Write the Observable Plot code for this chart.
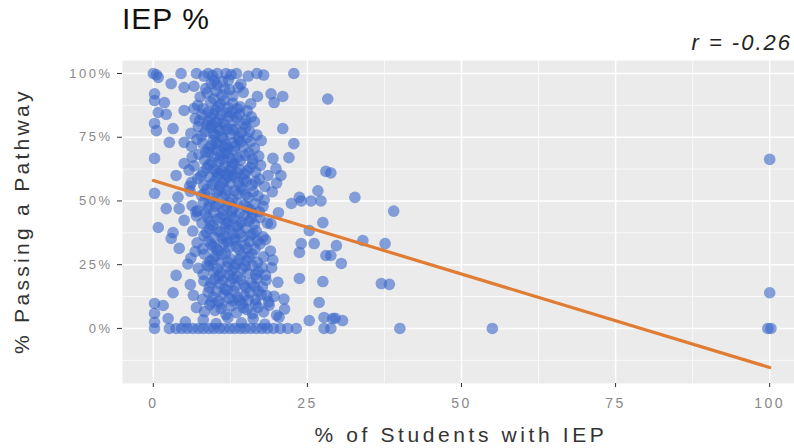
<!DOCTYPE html>
<html>
<head>
<meta charset="utf-8">
<script src="https://cdn.jsdelivr.net/npm/d3@7"></script>
<script src="https://cdn.jsdelivr.net/npm/@observablehq/plot@0.6"></script>
<style>
  html, body { margin: 0; padding: 0; background: #fff; overflow: hidden; }
  #wrap { position: relative; width: 800px; height: 448px; font-family: "Liberation Sans", Arial, sans-serif; }
  #chart { position: absolute; left: 0; top: 0; }
  .title { position: absolute; left: 122px; top: 4px; font-size: 30px; letter-spacing: 1px; color: #111; line-height: 1; }
  .rlab { position: absolute; right: 8px; top: 32px; font-size: 22px; font-style: italic; letter-spacing: 2px; color: #222; line-height: 1; }
  .xlab { position: absolute; left: 122px; width: 678px; top: 424px; text-align: center; font-size: 21px; letter-spacing: 3.6px; color: #333; line-height: 1; }
  .ylab { position: absolute; left: 11px; top: 221px; font-size: 21px; letter-spacing: 3.3px; color: #333; line-height: 1; white-space: nowrap;
          transform: rotate(-90deg); transform-origin: 0 0; }
  svg text { font-family: "Liberation Sans", Arial, sans-serif; }
  svg [aria-label$="tick label"] text { letter-spacing: 2.5px; }
</style>
</head>
<body>
<div id="wrap">
  <div id="chart"></div>
  <div class="title">IEP %</div>
  <div class="rlab">r = -0.26</div>
  <div class="xlab">% of Students with IEP</div>
  <div class="ylab" id="ylab">% Passing a Pathway</div>
</div>
<script>
// Axis ticks
const xTicks = [0, 25, 50, 75, 100];
const xMinor = [12.5, 37.5, 62.5, 87.5];
const yTicks = [0, 25, 50, 75, 100];
const yMinor = [-12.5, 12.5, 37.5, 62.5, 87.5];

// Fitted line
const fitIep = [0, 100];
const fitPass = [58, -15.3];

// Points: [% of students with IEP, % passing a pathway]
const topBand = [
  [0,100],[0.5,99.5],[0.8,98.5],[2.9,96],[4.5,100],[7,100],[8.2,99],[8.9,100],[9.6,99.2],[10.4,100],[11.8,100],[12.6,99.5],[13.5,100],[15.4,99],[16.8,100],[17.9,99.4],[22.8,100],[9.4,96],[10.3,95.5],[11.2,96.8],[12.2,97.5],[14.2,95.8],
  [0.2,92],[5,94.5],[6.6,95],[8.7,92.4],[10.2,93.1],[11.1,91.5],[12.4,93.6],[13.8,94.5],[16.9,91],[19.1,92],[21,91],[19.6,88.6],[28.3,90],
  [0.2,89.4],[1.8,88.6],[7.2,87.5],[8.1,86.2],[9.3,88.9],[10.1,85.8],[10.9,87.9],[12.1,86.6],[12.9,88.3],[14.1,86.9],[15.2,85.4],[11.5,89.5],[9.8,90.1],
  [0.8,84.7],[2.1,84],[5,85.5],[6.8,82.3],[7.9,83.8],[8.8,81.2],[9.7,84.3],[10.6,82.1],[11.4,80.6],[12.3,83.2],[13.1,81.5],[14,84.1],[15,81.6],[15.9,83],[0.2,80.4],[10.2,80.9],[12.7,84.8]
];
const upperBand = [
  [0.5,77.6],[3.2,78.4],[6.1,76.5],[7.3,79.2],[8.4,77.1],[9.2,78.8],[10,75.9],[10.8,77.7],[11.7,79.6],[12.5,76.2],[13.4,78.3],[14.3,76.8],[15,79],[15.6,77.3],[21,78.4],[9.5,79.9],[11.2,75.3],
  [2.6,73],[5,73],[6.2,71.4],[7.1,74.2],[8,72.6],[8.9,70.5],[9.7,73.8],[10.5,71.9],[11.3,74.6],[12.1,70.8],[12.9,72.9],[13.8,74.1],[14.6,71.2],[15.8,73.3],[17.5,73.7],[22.8,72.5],[16.4,70.6],[11.8,72.2],
  [0.2,66.7],[5,64.7],[7.4,68.3],[8.3,66.1],[9.1,69.2],[9.9,67.4],[10.7,65.6],[11.6,68.7],[12.4,66.8],[13.2,69.6],[14.1,65.9],[14.9,67.9],[16.1,66.4],[19.4,66.7],[22,67],[10.3,69.9],[12.8,65.2],
  [3.7,60],[5.8,62.1],[6.6,63.8],[8.1,61.4],[9,64.2],[9.8,62.6],[10.6,60.8],[11.5,63.5],[12.3,61.9],[13.1,64.6],[14,62.4],[14.8,60.5],[15.7,63.1],[16.6,61.2],[17.4,64],[18.6,60],[19.9,62.7],[20.7,60],[28,61.6],[11,61.8],[28.8,61]
];
const middleBand = [
  [6.2,57.3],[7.2,58.8],[8.2,56.1],[9.1,59.4],[9.9,57.6],[10.8,55.8],[11.6,58.1],[12.5,56.7],[13.3,59.2],[14.2,55.4],[15.1,57.9],[16,56.3],[17.2,58.6],[18.1,55.7],[20,57],[10.4,59.8],[12.9,60.2],
  [0.2,53],[4,51.5],[6,53.8],[7.8,52.2],[8.7,54.6],[9.5,50.9],[10.3,53.3],[11.2,51.7],[12,54.1],[12.8,50.6],[13.7,52.8],[14.5,54.5],[15.4,51.3],[16.2,53.6],[18,50.4],[23.7,51.4],[26.7,54],[32.7,51.4],
  [2.1,47],[4.2,47],[6.3,48.2],[7.2,46.1],[8.1,49.3],[8.9,47.4],[9.8,45.6],[10.6,48.7],[11.4,46.3],[12.3,49.5],[13.1,47.1],[14,45.3],[14.8,48.4],[15.7,46.6],[16.5,49],[17.2,45.8],[22.4,49],[24,50],[25.6,50],[27.2,50],[39,46],
  [0.8,39.6],[5,42.4],[7,44.1],[7.9,41.3],[8.8,43.6],[9.6,40.4],[10.4,42.8],[11.3,44.5],[12.1,41.7],[13,43.2],[13.8,40.6],[14.7,44],[15.5,42.1],[16.4,40.9],[17.3,43.5],[19.1,41],[27.5,41.5],[11.7,39.9],
  [3.2,37.6],[2.9,35.3],[6.4,38.2],[8.2,36.4],[9.1,39.1],[9.9,35.7],[10.8,37.8],[11.6,36.1],[12.4,38.7],[13.3,35.2],[14.1,37.3],[15,39.4],[15.8,36.6],[16.7,38.3],[17.8,35.9],[25.3,38.4],[13.6,39.8]
];
const lowerBand = [
  [4.2,31.4],[7.1,33.6],[8,31.2],[8.9,34.3],[9.7,32.1],[10.6,30.5],[11.4,33.4],[12.3,31.7],[13.1,34.6],[13.9,30.9],[14.8,32.8],[15.6,34.1],[16.5,31.1],[17.3,33.2],[19,30.4],[24,33.3],[26.1,33.3],[29.7,32.5],[34,34.5],[37.6,33.3],[18.2,34.8],
  [6.1,27.6],[8.3,29.1],[9.2,26.4],[10,28.3],[10.9,25.7],[11.7,29.6],[12.6,27.2],[13.4,25.2],[14.3,28.7],[15.1,26.5],[16,29.3],[16.9,25.9],[17.9,28.1],[23.7,29.8],[28,28.6],[28.8,28.6],[19.4,26.8],
  [3.7,20.8],[7.3,23.6],[8.1,21.2],[9,24.4],[9.8,22.1],[10.7,20.6],[11,21.6],[11.9,24.1],[12.7,22.5],[13.6,20.3],[14.4,23.4],[15.3,21.7],[16.1,24.7],[17,22.2],[18.2,20.9],[19.2,23.8],[30.5,25.5],
  [6,17.2],[8.2,18.6],[9.1,16.1],[9.9,19.3],[10.8,17.5],[11.6,15.4],[12.5,18.2],[13.3,16.6],[14.2,19.1],[15,15.9],[15.9,17.8],[16.8,19.6],[17.7,16.3],[20.2,18.1],[23.7,19.6],[27.5,18.4],[37,17.6],[38.3,17.3],
  [3.2,14],[6.5,13],[8,11.4],[8.9,14.2],[9.7,12.3],[10.6,10.6],[11.4,13.5],[12.3,11.8],[13.1,14.6],[14,10.9],[14.8,12.9],[15.7,14.1],[16.6,11.3],[17.5,13.2],[18.7,10.4],[19.6,12.6],[21.2,11.5],[26.9,10.2]
];
const bottomBand = [
  [0.2,9.8],[1.6,9],[0.2,5.9],[7,8.2],[8.3,6.6],[9.2,9.3],[10,7.1],[11,7.8],[11.8,5.4],[12.7,8.8],[13.5,6.2],[14.4,9.6],[15.2,7.4],[16.1,5.7],[17,8.3],[17.9,6.5],[18.8,9.1],[20,5.2],[21.3,7.6],
  [0.2,2.4],[2.4,3.9],[5.2,2.6],[8.1,3.4],[10.2,1.9],[12.1,4.2],[14.3,2.2],[16.2,3.8],[18.1,1.6],[20.4,4.4],[25.3,3.1],[27.7,4.3],[29.1,3.9],[30.7,3.1],[29.5,4],
  [0.2,0],[2.6,0],[3.7,0],[4.6,0],[5.5,0],[6.4,0],[7.3,0],[8.1,0],[9,0],[9.8,0],[10.7,0],[11.5,0],[12.4,0],[13.2,0],[14.1,0],[14.9,0],[15.8,0],[16.7,0],[17.6,0],[18.5,0],[19.5,0],[20.6,0],[21.8,0],[23.2,0],[27.7,0],[28.8,0],[40,0],[55,0]
];
const coreCloud = [
  [7.6,90.8],[8.5,94.1],[9.9,97.2],[11.6,93.9],[12.9,91.2],[14.6,92.6],[15.8,88.1],[13.6,86.2],[11.9,84.6],[10.5,86.9],[8.9,84.9],[7.5,81.4],[9.3,82.7],[11,83.7],[13.5,82.8],[14.7,80.2],[16.4,81.1],
  [12,78.2],[10.4,78.6],[8.7,79.6],[7.8,75.6],[9.7,76.4],[13.9,75.2],[12.9,77.9],[15.2,74.8],[16.8,75.9],[10.2,72.8],[11.5,71.1],[9.4,71.7],[13.3,71.5],[14.2,73.2],
  [8.5,69.1],[10.9,67.9],[12,68.8],[13.7,67.2],[15.5,68.9],[11.3,66.2],[9.5,65.2],[17.1,67.6],[8.7,63],[10.2,61.6],[12.7,63.3],[13.6,61.1],[15.2,61.8],[16.1,64.7],[11.8,60.4],
  [7.7,59.9],[9.5,56.5],[11.2,57.1],[12.1,59.5],[13.8,57.3],[14.7,58.5],[16.6,57.5],[10.6,54.3],[8.3,52.9],[11.7,52.6],[13.2,53.9],[15,52.5],[17,51.9],
  [9.1,49.6],[10.1,47.9],[11.9,48.1],[12.7,45.9],[13.6,49.4],[15.2,47.5],[16.1,45.1],[8.5,45.4],[10.9,43.4],[11.9,40.9],[12.6,43.9],[14.3,41.6],[15.9,43.3],[9.2,41.8],
  [10.3,38.6],[11.2,35.3],[12.9,37.1],[14.5,35.9],[16.2,37.1],[8.6,37.6],[9.4,33],[10.2,31.4],[12,33.9],[13.5,32.2],[15.2,31.3],[16.9,34.3],
  [11.1,29.1],[12.1,26.1],[13.9,27],[15.5,28.2],[9.7,27.1],[8.7,24.9],[10.4,23.4],[12.3,20.8],[13.2,23.9],[14.9,24.4],[16.6,21.1],[17.7,23.9],
  [9.4,18],[11.3,18.9],[13,19.7],[14.7,17.1],[16.4,16.5],[18.3,18.9],[10.3,14.6],[12,14.9],[13.7,12.2],[15.4,11.1],[17,14.7],[9.4,10.3],[11.1,9.6],[12.9,10.8],[14.6,8.1],[16.6,9.6],[18.4,12.9],
  [6.8,30.2],[5.6,25.3],[6.9,45.8],[5.9,55.8],[6.3,67.2],[6.6,86.3],[17.8,47.9],[18.5,41.3],[19.3,53.6],[20.3,45.4]
];
const farRight = [[100,66.3],[100,14],[99.7,0],[100.2,0]];

const points = [...topBand, ...upperBand, ...middleBand, ...lowerBand, ...bottomBand, ...coreCloud, ...farRight]
  .map(([iep, pass]) => ({iep, pass}));
const fit = fitIep.map((v, i) => ({iep: v, pass: fitPass[i]}));

const chart = Plot.plot({
  width: 800,
  height: 448,
  marginLeft: 122,
  marginRight: 0,
  marginTop: 60,
  marginBottom: 65,
  style: {background: "transparent", fontFamily: "Liberation Sans, Arial, sans-serif"},
  x: {domain: [-5, 105]},
  y: {domain: [-21.6, 105.1]},
  marks: [
    Plot.frame({fill: "#ebebeb", stroke: null}),
    Plot.gridX(xMinor, {stroke: "#fff", strokeOpacity: 1, strokeWidth: 0.7}),
    Plot.gridY(yMinor, {stroke: "#fff", strokeOpacity: 1, strokeWidth: 0.7}),
    Plot.gridX(xTicks, {stroke: "#fff", strokeOpacity: 1, strokeWidth: 1.5}),
    Plot.gridY(yTicks, {stroke: "#fff", strokeOpacity: 1, strokeWidth: 1.5}),
    Plot.dot(points, {x: "iep", y: "pass", r: 5.8, fill: "#3a68c9", fillOpacity: 0.6, stroke: "none"}),
    Plot.line(fit, {x: "iep", y: "pass", stroke: "#e07c33", strokeWidth: 3.2}),
    Plot.axisX(xTicks, {tickSize: 4, tickPadding: 11, stroke: "#333", fill: "#888", fontSize: 14, label: null}),
    Plot.axisY(yTicks, {tickSize: 5, tickPadding: 5, stroke: "#333", fill: "#888", fontSize: 13, label: null, tickFormat: d => d + "%"})
  ]
});
document.getElementById("chart").appendChild(chart);
// center rotated y label on panel
const yl = document.getElementById("ylab");
const w = yl.getBoundingClientRect().height;
yl.style.top = (221 + w / 2) + "px";
</script>
</body>
</html>
